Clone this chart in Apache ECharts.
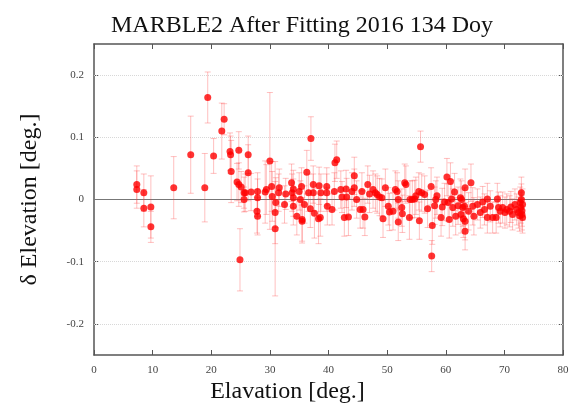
<!DOCTYPE html>
<html><head><meta charset="utf-8">
<script src="https://cdn.jsdelivr.net/npm/echarts@6/dist/echarts.min.js"></script>
<style>html,body{margin:0;padding:0;background:#fff}#c{width:575px;height:404px}</style>
</head><body><div id="c"></div>
<script>
const elevation = [7.3,7.3,8.5,8.5,9.7,9.7,13.6,16.5,18.9,19.4,20.4,21.8,22.2,23.2,23.3,23.4,24.7,24.4,24.7,25.1,25.6,25.6,24.9,26.3,26.3,25.8,26.8,27.9,27.9,27.8,27.9,29.2,29.4,30.0,30.3,30.4,31.0,30.9,30.9,31.6,31.5,32.5,32.7,33.7,34.0,33.8,34.0,34.0,34.6,35.0,35.2,35.4,35.5,35.5,35.9,36.3,37.0,36.6,36.9,37.4,37.6,37.4,38.4,38.3,38.7,38.6,39.7,39.7,39.8,40.6,41.0,41.1,41.4,42.1,42.3,42.7,43.0,43.1,43.4,44.0,44.4,44.4,44.8,45.4,45.7,45.9,46.2,46.7,47.0,47.6,48.0,48.3,48.7,49.1,49.3,49.7,50.2,50.4,51.0,51.4,51.9,51.7,51.9,52.5,52.6,53.0,53.2,53.8,53.9,54.3,54.7,54.9,55.4,55.5,55.7,55.9,56.4,56.9,57.5,57.7,57.6,58.1,58.3,58.5,59.2,59.4,59.8,60.2,60.4,60.6,60.8,61.0,61.2,61.5,61.7,62.1,62.5,62.6,63.0,63.2,64.3,63.3,62.7,62.9,63.3,63.3,63.9,64.6,64.8,65.4,65.9,66.3,66.6,67.1,67.1,67.6,68.0,68.6,68.8,69.0,69.3,69.7,70.1,70.4,70.9,71.1,71.4,71.8,72.1,72.4,72.7,72.8,73.0,72.9,73.1,72.9,73.0,72.6,73.1];
const deltaElevation = [0.024,0.016,0.011,-0.014,-0.012,-0.044,0.019,0.072,0.019,0.164,0.070,0.110,0.129,0.077,0.072,0.045,0.079,0.028,0.024,0.020,0.011,0.0,-0.097,0.072,0.043,0.011,0.012,0.013,0.003,-0.019,-0.027,0.012,0.016,0.062,0.021,0.005,-0.005,-0.021,-0.047,0.019,0.011,-0.008,0.009,0.027,0.017,0.011,0.003,-0.011,-0.027,0.013,0.0,0.021,-0.032,-0.035,-0.008,0.044,0.098,0.011,-0.015,0.024,-0.022,0.011,0.022,-0.031,0.011,-0.029,0.021,0.011,-0.011,-0.016,0.013,0.059,0.064,0.016,0.004,-0.029,0.017,0.004,-0.028,0.013,0.038,0.019,0.0,-0.016,0.013,-0.016,-0.028,0.024,0.009,0.016,0.011,0.008,0.004,0.003,-0.031,0.019,-0.011,-0.02,-0.019,0.016,-0.036,0.013,0.0,-0.013,-0.023,0.027,0.024,-0.029,0.0,0.0,0.001,0.006,0.013,-0.034,0.085,0.011,0.008,-0.015,0.021,-0.042,-0.091,-0.01,0.0,0.006,-0.029,-0.012,-0.004,0.036,-0.005,-0.032,0.029,0.001,-0.013,0.012,-0.027,-0.01,0.003,-0.024,-0.031,-0.011,0.027,0.019,0.0,-0.013,-0.035,-0.051,-0.019,-0.011,-0.027,-0.008,-0.021,-0.004,-0.016,0.001,-0.029,-0.011,-0.029,-0.029,0.001,-0.013,-0.019,-0.013,-0.021,-0.016,-0.019,-0.012,-0.024,-0.008,-0.016,-0.021,-0.005,-0.013,-0.024,0.011,-0.029,0.0,-0.018,-0.026,-0.008];
const errorSize = [0.03,0.03,0.03,0.03,0.05,0.025,0.05,0.062,0.055,0.041,0.028,0.045,0.025,0.03,0.03,0.05,0.03,0.03,0.035,0.025,0.025,0.02,0.05,0.03,0.045,0.03,0.03,0.03,0.03,0.035,0.03,0.05,0.04,0.11,0.04,0.04,0.04,0.05,0.108,0.03,0.03,0.03,0.025,0.03,0.03,0.03,0.03,0.03,0.03,0.03,0.03,0.03,0.035,0.035,0.03,0.035,0.035,0.03,0.03,0.03,0.04,0.03,0.03,0.04,0.03,0.03,0.03,0.03,0.03,0.025,0.03,0.03,0.03,0.03,0.025,0.03,0.03,0.03,0.03,0.03,0.03,0.03,0.03,0.03,0.03,0.03,0.03,0.03,0.03,0.03,0.03,0.03,0.03,0.03,0.03,0.03,0.03,0.03,0.03,0.03,0.03,0.03,0.03,0.03,0.03,0.03,0.03,0.035,0.03,0.03,0.03,0.03,0.03,0.03,0.025,0.03,0.03,0.03,0.03,0.03,0.025,0.03,0.03,0.03,0.03,0.03,0.03,0.03,0.03,0.03,0.03,0.03,0.03,0.03,0.03,0.03,0.03,0.03,0.03,0.03,0.03,0.03,0.03,0.03,0.03,0.03,0.03,0.03,0.03,0.025,0.025,0.025,0.025,0.025,0.025,0.025,0.025,0.025,0.025,0.025,0.025,0.025,0.025,0.025,0.025,0.025,0.025,0.025,0.025,0.025,0.025,0.025,0.025,0.025,0.025,0.025,0.025,0.025,0.025,0.025,0.025];
const xTicks = [0,10,20,30,40,50,60,70,80];
const yTicks = [-0.2,-0.1,0,0.1,0.2];
const titleText = 'MARBLE2 After Fitting 2016 134 Doy';
const xName = 'Elavation [deg.]';
const yName = 'δ Elevation [deg.]';

const pts = elevation.map((x,i)=>[x, deltaElevation[i], errorSize[i]]);
const serif = '"Liberation Serif","DejaVu Serif",serif';
const axisCol = '#555';
const chart = echarts.init(document.getElementById('c'), null, {renderer:'canvas'});
const yAxisBase = {
  type:'value', min:-0.25, max:0.25,
  axisLine:{show:true, onZero:false, lineStyle:{color:axisCol, width:1.5}},
  axisTick:{show:true, inside:true, length:5, customValues:yTicks, lineStyle:{color:axisCol}},
  splitLine:{show:false}
};
const xAxisBase = {
  type:'value', min:0, max:80, interval:10,
  axisLine:{show:true, onZero:false, lineStyle:{color:axisCol, width:1.5}},
  axisTick:{show:true, inside:true, length:5, customValues:xTicks, lineStyle:{color:axisCol}},
  splitLine:{show:false}
};
chart.setOption({
  animation:false,
  title:{text:titleText, left:297, top:9, textAlign:'center',
    textStyle:{fontFamily:serif, fontSize:24, fontWeight:'normal', color:'#111'}},
  grid:{left:94, right:12, top:44, bottom:49},
  xAxis:[
    Object.assign({}, xAxisBase, {position:'bottom',
      axisLabel:{show:true, customValues:xTicks, margin:10, fontFamily:serif, fontSize:11, color:'#444'}}),
    Object.assign({}, xAxisBase, {position:'top', axisLabel:{show:false}})
  ],
  yAxis:[
    Object.assign({}, yAxisBase, {position:'left',
      name:yName, nameLocation:'middle', nameGap:52,
      nameTextStyle:{fontFamily:serif, fontSize:24, color:'#111'},
      axisLabel:{show:true, customValues:yTicks, margin:10, fontFamily:serif, fontSize:11, color:'#444',
        formatter:v=>String(Math.round(v*10)/10)}}),
    Object.assign({}, yAxisBase, {position:'right', axisLabel:{show:false}})
  ],
  graphic:[{type:'text', left:'center', top:380,
    style:{text:xName, fontFamily:serif, fontSize:24, fill:'#111'}}],
  series:[
    {type:'custom', xAxisIndex:0, yAxisIndex:0, data:pts, silent:true, z:2,
      renderItem:(params, api)=>{
        const x=api.value(0), y=api.value(1), e=api.value(2);
        const top=api.coord([x,y+e]), bot=api.coord([x,y-e]);
        const w=3;
        const st={stroke:'rgba(255,60,60,0.32)', lineWidth:1};
        return {type:'group', children:[
          {type:'line', shape:{x1:top[0],y1:top[1],x2:bot[0],y2:bot[1]}, style:st},
          {type:'line', shape:{x1:top[0]-w,y1:top[1],x2:top[0]+w,y2:top[1]}, style:st},
          {type:'line', shape:{x1:bot[0]-w,y1:bot[1],x2:bot[0]+w,y2:bot[1]}, style:st}
        ]};
      }},
    {type:'scatter', xAxisIndex:0, yAxisIndex:0, data:pts.map(p=>[p[0],p[1]]), symbol:'circle', symbolSize:7,
      itemStyle:{color:'#ff0000'}, z:3, silent:true,
      markLine:{silent:true, symbol:'none', label:{show:false}, z:1,
        data:[
          {yAxis:0.2, lineStyle:{color:'#d8d8d8', type:'dotted', width:1}},
          {yAxis:0.1, lineStyle:{color:'#d8d8d8', type:'dotted', width:1}},
          {yAxis:-0.1, lineStyle:{color:'#d8d8d8', type:'dotted', width:1}},
          {yAxis:-0.2, lineStyle:{color:'#d8d8d8', type:'dotted', width:1}},
          {yAxis:0, lineStyle:{color:'#777', type:'solid', width:1.2}}
        ]}}
  ]
});
</script></body></html>
